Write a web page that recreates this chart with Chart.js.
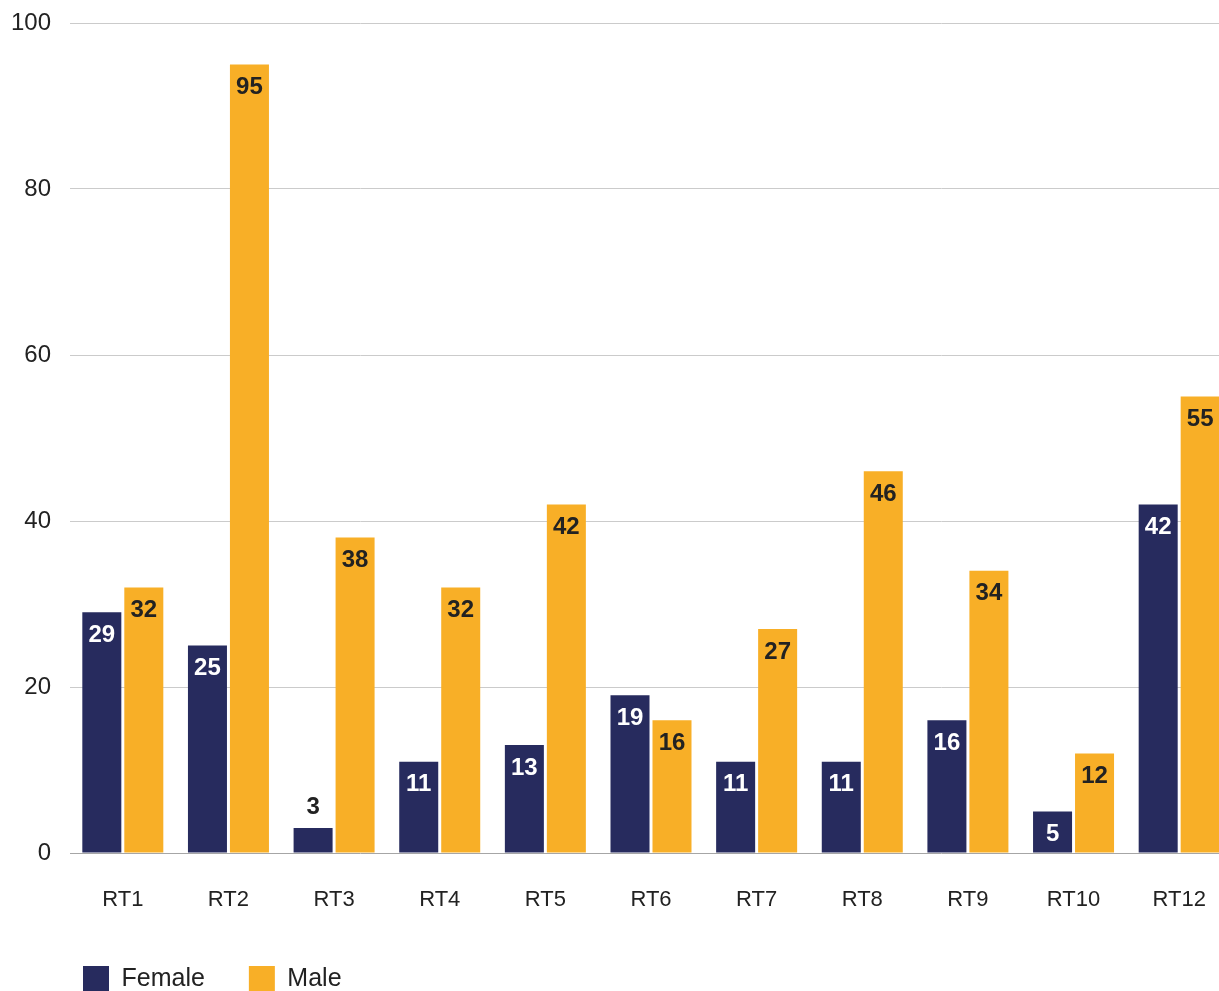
<!DOCTYPE html>
<html>
<head>
<meta charset="utf-8">
<script src="https://cdn.jsdelivr.net/npm/chart.js@4/dist/chart.umd.min.js"></script>
<style>
  html, body { margin: 0; padding: 0; background: #fff; overflow: hidden; }
  #wrap { width: 1232px; height: 1002px; }
</style>
</head>
<body>
<div id="wrap"><canvas id="chart" width="1232" height="1002"></canvas></div>
<script>
// data
const categories = ['RT1', 'RT2', 'RT3', 'RT4', 'RT5', 'RT6', 'RT7', 'RT8', 'RT9', 'RT10', 'RT12'];
const femaleValues = [29, 25, 3, 11, 13, 19, 11, 11, 16, 5, 42];
const maleValues = [32, 95, 38, 32, 42, 16, 27, 46, 34, 12, 55];
const yTicks = [0, 20, 40, 60, 80, 100];

const FONT = '"Liberation Sans", Arial, Helvetica, sans-serif';
const NAVY = 'rgb(39, 43, 94)';
const ORANGE = 'rgb(248, 175, 39)';
const DARK = '#222222';

// value labels at the top of each bar
const barLabels = {
    id: 'barLabels',
    afterDatasetsDraw(chart) {
        const ctx = chart.ctx;
        ctx.save();
        ctx.font = 'bold 24px ' + FONT;
        ctx.textAlign = 'center';
        ctx.textBaseline = 'middle';
        chart.data.datasets.forEach((ds, di) => {
            const meta = chart.getDatasetMeta(di);
            meta.data.forEach((bar, i) => {
                const h = bar.base - bar.y;
                let y, color;
                if (h < 30) {
                    y = bar.y - 21;
                    color = DARK;
                } else {
                    y = bar.y + 23;
                    color = di === 0 ? '#ffffff' : DARK;
                }
                ctx.fillStyle = color;
                ctx.fillText(String(ds.data[i]), bar.x, y);
            });
        });
        ctx.restore();
    }
};

// push the legend to where the reference has it
const legendShift = {
    id: 'legendShift',
    afterLayout(chart) {
        chart.legend.left = 39;
    }
};

const ctx = document.getElementById('chart').getContext('2d');
const chart = new Chart(ctx, {
    type: 'bar',
    data: {
        labels: categories,
        datasets: [{
            label: 'Female',
            data: femaleValues,
            backgroundColor: NAVY,
            categoryPercentage: 0.795,
            barPercentage: 0.929
        }, {
            label: 'Male',
            data: maleValues,
            backgroundColor: ORANGE,
            categoryPercentage: 0.795,
            barPercentage: 0.929
        }]
    },
    options: {
        responsive: false,
        animation: false,
        devicePixelRatio: 1,
        layout: {
            padding: { top: 23, left: 0, right: 0, bottom: 0 }
        },
        plugins: {
            legend: {
                position: 'bottom',
                align: 'start',
                labels: {
                    boxWidth: 26,
                    boxHeight: 26,
                    padding: 44,
                    color: DARK,
                    font: { family: FONT, size: 25 }
                }
            },
            tooltip: { enabled: false }
        },
        scales: {
            y: {
                min: 0,
                max: 100,
                afterFit(scale) {
                    scale.width = 70;
                    scale.paddingTop = 0;
                    scale.paddingBottom = 0;
                },
                afterBuildTicks(scale) { scale.ticks = yTicks.map(v => ({ value: v })); },
                border: { display: false },
                grid: {
                    drawTicks: false,
                    color: c => (c.tick && c.tick.value === 0) ? '#a6a6a6' : '#cbcbcb',
                    lineWidth: 1
                },
                ticks: {
                    padding: 19,
                    color: DARK,
                    font: { family: FONT, size: 24 }
                }
            },
            x: {
                afterFit(scale) {
                    scale.height = 69;
                    scale.paddingLeft = 0;
                    scale.paddingRight = 0;
                },
                border: { display: false },
                grid: { display: false, drawTicks: false },
                ticks: {
                    padding: 34,
                    color: DARK,
                    font: { family: FONT, size: 22 }
                }
            }
        }
    },
    plugins: [barLabels, legendShift]
});
</script>
</body>
</html>
